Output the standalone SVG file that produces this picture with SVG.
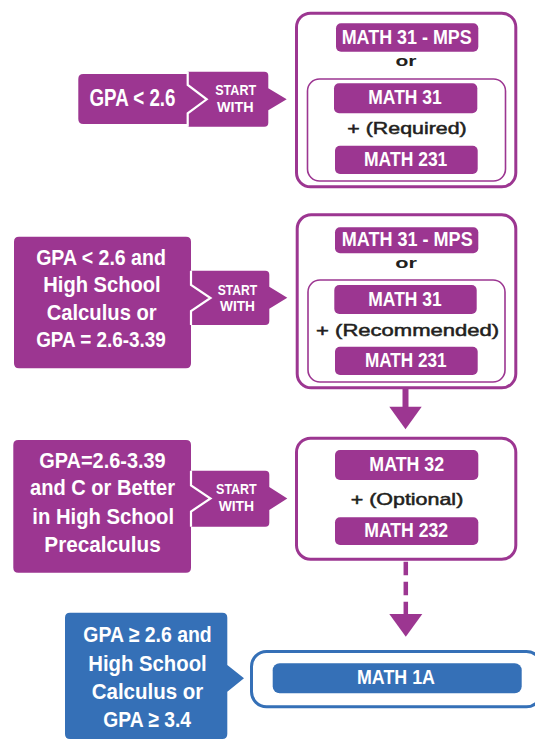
<svg xmlns="http://www.w3.org/2000/svg" width="535" height="740" viewBox="0 0 535 740">
<defs>
<style>
.p{fill:#9C3691}
.b{fill:#3570B7}
.ob{fill:#fff;stroke:#9C3691;stroke-width:3}
.ib{fill:#fff;stroke:#9C3691;stroke-width:1.6}
.bb{fill:#fff;stroke:#3570B7;stroke-width:3}
.seam{fill:none;stroke:#fff;stroke-width:2.2;stroke-linejoin:miter}
.w{fill:#fff;font-family:"Liberation Sans Narrow","Liberation Sans",Arial,sans-serif;font-weight:bold;text-anchor:middle}
.g{font-size:22.5px}
.m{font-size:21px}
.s{font-size:15.5px}
.d{fill:#231F20;font-family:"Liberation Sans",Arial,sans-serif;text-anchor:middle;font-size:16.5px;stroke:#231F20;stroke-width:0.5}
.or{fill:#231F20;font-family:"Liberation Sans",Arial,sans-serif;font-weight:bold;text-anchor:middle;font-size:15.5px}
</style>
</defs>

<g id="cond1">
<path class="p" d="M83.3,74 H187.7 V85 L206.7,99.3 L187.7,113.3 V124 H83.3 Q78.3,124 78.3,119 V79 Q78.3,74 83.3,74 Z"/>
<text class="w" x="132.5" y="105.5" textLength="86" lengthAdjust="spacingAndGlyphs" style="font-size:23px">GPA &lt; 2.6</text>
</g>
<g id="start1">
<path class="p" d="M187.7,71.7 H264.3 Q268.3,71.7 268.3,75.7 V88.3 L286.7,99.3 L268.3,110.3 V122.7 Q268.3,126.7 264.3,126.7 H187.7 V113.3 L206.7,99.3 L187.7,85 Z"/>
<polyline class="seam" points="187.7,71.7 187.7,85 206.7,99.3 187.7,113.3 187.7,126.7"/>
<text class="w s" x="235.7" y="95" textLength="41" lengthAdjust="spacingAndGlyphs">START</text>
<text class="w s" x="235.2" y="111.7" textLength="36.6" lengthAdjust="spacingAndGlyphs">WITH</text>
</g>
<g id="box1">
<rect class="ob" x="296.5" y="13.2" width="219.3" height="173.6" rx="14"/>
<rect class="p" x="336" y="23.3" width="142.3" height="28.4" rx="5"/>
<text class="w m" x="406.7" y="44" textLength="130" lengthAdjust="spacingAndGlyphs">MATH 31 - MPS</text>
<text class="or" x="406" y="65.7" textLength="21" lengthAdjust="spacingAndGlyphs">or</text>
<rect class="ib" x="307.5" y="79" width="198" height="102" rx="12"/>
<rect class="p" x="334" y="83.3" width="143.3" height="30" rx="5"/>
<text class="w m" x="405" y="104" textLength="73.4" lengthAdjust="spacingAndGlyphs">MATH 31</text>
<text class="d" x="407" y="134.3" textLength="119.3" lengthAdjust="spacingAndGlyphs">+ (Required)</text>
<rect class="p" x="335" y="145.7" width="142.7" height="28.3" rx="5"/>
<text class="w m" x="405.7" y="166.2" textLength="83.3" lengthAdjust="spacingAndGlyphs">MATH 231</text>
</g>

<g id="cond2">
<path class="p" d="M19,236.7 H186 Q191,236.7 191,241.7 V285 L210.5,298 L191,311 V363.3 Q191,368.3 186,368.3 H19 Q14,368.3 14,363.3 V241.7 Q14,236.7 19,236.7 Z"/>
<text class="w g" x="101" y="265.3" textLength="129.7" lengthAdjust="spacingAndGlyphs">GPA &lt; 2.6 and</text>
<text class="w g" x="102" y="292" textLength="117.3" lengthAdjust="spacingAndGlyphs">High School</text>
<text class="w g" x="101.7" y="319.6" textLength="110" lengthAdjust="spacingAndGlyphs">Calculus or</text>
<text class="w g" x="101" y="347" textLength="129.7" lengthAdjust="spacingAndGlyphs">GPA = 2.6-3.39</text>
</g>
<g id="start2">
<path class="p" d="M191,270.7 H265.3 Q269.3,270.7 269.3,274.7 V286.7 L287.3,297.7 L269.3,308.7 V321 Q269.3,325 265.3,325 H191 V311 L210.5,298 L191,285 Z"/>
<polyline class="seam" points="191,270.7 191,285 210.5,298 191,311 191,325"/>
<text class="w s" x="237.5" y="294.5" textLength="39.6" lengthAdjust="spacingAndGlyphs">START</text>
<text class="w s" x="237.5" y="310.7" textLength="35" lengthAdjust="spacingAndGlyphs">WITH</text>
</g>
<g id="box2">
<rect class="ob" x="297.2" y="214.8" width="218.6" height="173" rx="14"/>
<rect class="p" x="335" y="227.3" width="143.3" height="26" rx="5"/>
<text class="w m" x="407.2" y="245.5" textLength="131" lengthAdjust="spacingAndGlyphs">MATH 31 - MPS</text>
<text class="or" x="406" y="267.7" textLength="21.7" lengthAdjust="spacingAndGlyphs">or</text>
<rect class="ib" x="308" y="280" width="197" height="102" rx="12"/>
<rect class="p" x="334.3" y="285" width="142.4" height="29" rx="5"/>
<text class="w m" x="405" y="305.7" textLength="73.4" lengthAdjust="spacingAndGlyphs">MATH 31</text>
<text class="d" x="407.6" y="335.8" textLength="183" lengthAdjust="spacingAndGlyphs">+ (Recommended)</text>
<rect class="p" x="335" y="346.7" width="142.7" height="28.3" rx="5"/>
<text class="w m" x="405.8" y="367.2" textLength="81.7" lengthAdjust="spacingAndGlyphs">MATH 231</text>
</g>

<g id="cond3">
<path class="p" d="M18.3,440 H186 Q191,440 191,445 V485.5 L210.5,498.5 L191,511.5 V567.7 Q191,572.7 186,572.7 H18.3 Q13.3,572.7 13.3,567.7 V445 Q13.3,440 18.3,440 Z"/>
<text class="w g" x="102.5" y="467.6" textLength="126.4" lengthAdjust="spacingAndGlyphs">GPA=2.6-3.39</text>
<text class="w g" x="102.5" y="495.3" textLength="145" lengthAdjust="spacingAndGlyphs">and C or Better</text>
<text class="w g" x="103.2" y="523.6" textLength="141.7" lengthAdjust="spacingAndGlyphs">in High School</text>
<text class="w g" x="102.5" y="552" textLength="116.4" lengthAdjust="spacingAndGlyphs">Precalculus</text>
</g>
<g id="start3">
<path class="p" d="M191,470.7 H265.3 Q269.3,470.7 269.3,474.7 V487 L287.3,498.5 L269.3,510 V522.7 Q269.3,526.7 265.3,526.7 H191 V511.5 L210.5,498.5 L191,485.5 Z"/>
<polyline class="seam" points="191,470.7 191,485.5 210.5,498.5 191,511.5 191,526.7"/>
<text class="w s" x="236.4" y="493.5" textLength="40.7" lengthAdjust="spacingAndGlyphs">START</text>
<text class="w s" x="236.4" y="511.2" textLength="35.5" lengthAdjust="spacingAndGlyphs">WITH</text>
</g>
<g id="box3">
<rect class="ob" x="296.5" y="438.2" width="219.3" height="121" rx="14"/>
<rect class="p" x="335" y="450" width="143.3" height="30" rx="5"/>
<text class="w m" x="406.7" y="471.2" textLength="74.7" lengthAdjust="spacingAndGlyphs">MATH 32</text>
<text class="d" x="407" y="505.3" textLength="112.6" lengthAdjust="spacingAndGlyphs">+ (Optional)</text>
<rect class="p" x="335" y="517.3" width="143.3" height="27.7" rx="5"/>
<text class="w m" x="406.2" y="536.5" textLength="84" lengthAdjust="spacingAndGlyphs">MATH 232</text>
</g>

<g id="cond4">
<path class="b" d="M70,612.7 H222.3 Q227.3,612.7 227.3,617.7 V665 L244,678.3 L227.3,691.7 V734 Q227.3,739 222.3,739 H70 Q65,739 65,734 V617.7 Q65,612.7 70,612.7 Z"/>
<text class="w g" x="147.5" y="642" textLength="128.4" lengthAdjust="spacingAndGlyphs">GPA ≥ 2.6 and</text>
<text class="w g" x="147.5" y="671" textLength="118.4" lengthAdjust="spacingAndGlyphs">High School</text>
<text class="w g" x="147.5" y="699.3" textLength="111.6" lengthAdjust="spacingAndGlyphs">Calculus or</text>
<text class="w g" x="147.2" y="727" textLength="87.7" lengthAdjust="spacingAndGlyphs">GPA ≥ 3.4</text>
</g>
<g id="box4">
<rect class="bb" x="251.5" y="651.5" width="290" height="55.3" rx="15"/>
<rect class="b" x="272.7" y="663.3" width="249" height="30" rx="7"/>
<text class="w m" x="396" y="684" textLength="78" lengthAdjust="spacingAndGlyphs">MATH 1A</text>
</g>

<g id="connectors">
<line x1="405.5" y1="389" x2="405.5" y2="408" stroke="#9C3691" stroke-width="6"/>
<polygon class="p" points="389.3,406.7 421.7,406.7 405.5,429.3"/>
<line x1="405.8" y1="561.7" x2="405.8" y2="615" stroke="#9C3691" stroke-width="4.5" stroke-dasharray="13.5 6.5"/>
<polygon class="p" points="389.3,614 422.3,614 405.8,636.7"/>
</g>
</svg>
